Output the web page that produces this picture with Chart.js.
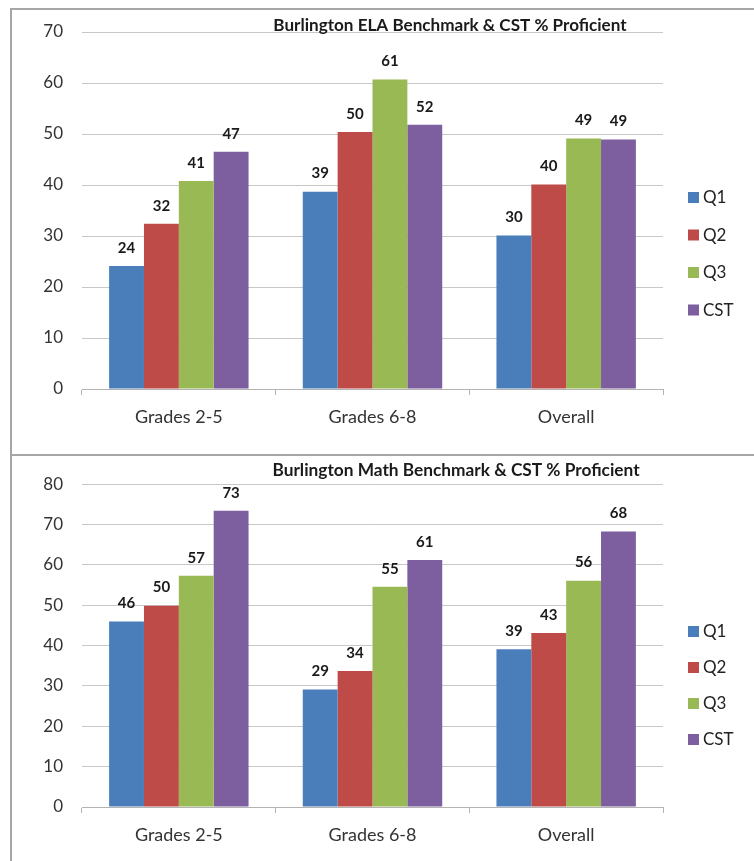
<!DOCTYPE html>
<html>
<head>
<meta charset="utf-8">
<script src="https://cdn.jsdelivr.net/npm/chart.js@4"></script>
<style>
  html, body { margin: 0; padding: 0; background: #fff; }
  body { width: 754px; height: 861px; position: relative; overflow: hidden; }
  .wrap { position: absolute; left: 0; width: 754px; }
  #topWrap { top: 0; height: 455px; }
  #botWrap { top: 455px; height: 406px; }
  .line { position: absolute; background: #a6a6a6; z-index: 5; }
</style>
</head>
<body>
<div class="wrap" id="topWrap"><canvas id="elaChart"></canvas></div>
<div class="wrap" id="botWrap"><canvas id="mathChart"></canvas></div>
<div class="line" style="left:10px; top:8px; width:744px; height:2px;"></div>
<div class="line" style="left:10px; top:454px; width:744px; height:2px;"></div>
<div class="line" style="left:10px; top:8px; width:2px; height:853px;"></div>
<script>
// categories and series
const categories = ['Grades 2-5', 'Grades 6-8', 'Overall'];
const seriesNames = ['Q1', 'Q2', 'Q3', 'CST'];

// ELA % proficient
const elaQ1 = [24.1, 38.7, 30.1];
const elaQ2 = [32.4, 50.4, 40.1];
const elaQ3 = [40.8, 60.7, 49.1];
const elaCST = [46.5, 51.8, 48.9];

// Math % proficient
const mathQ1 = [46.0, 29.1, 39.1];
const mathQ2 = [49.9, 33.7, 43.1];
const mathQ3 = [57.3, 54.6, 56.1];
const mathCST = [73.4, 61.2, 68.3];

const seriesColors = ['#4a7ebb', '#be4b48', '#98b954', '#7d5fa0'];
const FONT = 'Lato, "Liberation Sans", sans-serif';

// bold value labels above each bar
const valueLabels = {
  id: 'valueLabels',
  afterDatasetsDraw(chart) {
    const ctx = chart.ctx;
    ctx.save();
    ctx.font = 'bold 15px ' + FONT;
    ctx.fillStyle = '#1a1a1a';
    ctx.textAlign = 'center';
    ctx.textBaseline = 'middle';
    chart.data.datasets.forEach((ds, i) => {
      chart.getDatasetMeta(i).data.forEach((bar, j) => {
        ctx.fillText(Math.round(ds.data[j]), bar.x, bar.y - 18);
      });
    });
    ctx.restore();
  }
};

// title sitting on the top gridline, plus legend at the right
const overlay = {
  id: 'overlay',
  afterDraw(chart, args, opts) {
    const ctx = chart.ctx;
    ctx.save();
    ctx.font = 'bold 14px ' + FONT;
    const size = 14 * opts.titleWidth / ctx.measureText(opts.title).width;
    ctx.font = 'bold ' + size.toFixed(1) + 'px ' + FONT;
    ctx.fillStyle = '#1a1a1a';
    ctx.textAlign = 'center';
    ctx.textBaseline = 'middle';
    ctx.fillText(opts.title, opts.titleX, opts.titleY);

    ctx.font = '17px ' + FONT;
    ctx.textAlign = 'left';
    chart.data.datasets.forEach((ds, i) => {
      const y = opts.legendY + i * opts.legendStep;
      ctx.fillStyle = ds.backgroundColor;
      ctx.fillRect(688, y - 5, 11, 11);
      ctx.fillStyle = '#222';
      ctx.fillText(ds.label, 703, y + 1);
    });
    ctx.restore();
  }
};

function buildChart(id, seriesData, yMax, height, padTop, padBottom, overlayOpts) {
  const canvas = document.getElementById(id);
  canvas.width = 754;
  canvas.height = height;
  return new Chart(canvas.getContext('2d'), {
    type: 'bar',
    data: {
      labels: categories,
      datasets: seriesNames.map((name, i) => ({
        label: name,
        data: seriesData[i],
        backgroundColor: seriesColors[i],
        borderWidth: 0,
        barPercentage: 1.0,
        categoryPercentage: 0.72
      }))
    },
    options: {
      responsive: false,
      animation: false,
      layout: { padding: { left: 0, right: 91, top: padTop, bottom: padBottom } },
      plugins: {
        legend: { display: false },
        tooltip: { enabled: false },
        overlay: overlayOpts
      },
      scales: {
        x: {
          grid: { display: true, drawOnChartArea: false, drawTicks: true, tickLength: 6, color: '#b3b3b3', offset: true },
          border: { display: true, color: '#b3b3b3', width: 1 },
          ticks: { font: { family: FONT, size: 18 }, color: '#333', padding: 11 },
          afterFit: s => { s.height = 50; }
        },
        y: {
          min: 0,
          max: yMax,
          grid: { color: '#c8c8c8', drawTicks: false, lineWidth: 1 },
          border: { display: false },
          ticks: { stepSize: 10, font: { family: FONT, size: 17 }, color: '#333', padding: 19 },
          afterFit: s => { s.width = 82; }
        }
      }
    },
    plugins: [valueLabels, overlay]
  });
}

buildChart('elaChart', [elaQ1, elaQ2, elaQ3, elaCST], 70, 455, 32, 16, {
  title: 'Burlington ELA Benchmark & CST % Proficient',
  titleX: 450, titleY: 25, titleWidth: 353, legendY: 197, legendStep: 37.5
});

buildChart('mathChart', [mathQ1, mathQ2, mathQ3, mathCST], 80, 406, 22, 4, {
  title: 'Burlington Math Benchmark & CST % Proficient',
  titleX: 456, titleY: 15, titleWidth: 367, legendY: 176, legendStep: 36
});
</script>
</body>
</html>
